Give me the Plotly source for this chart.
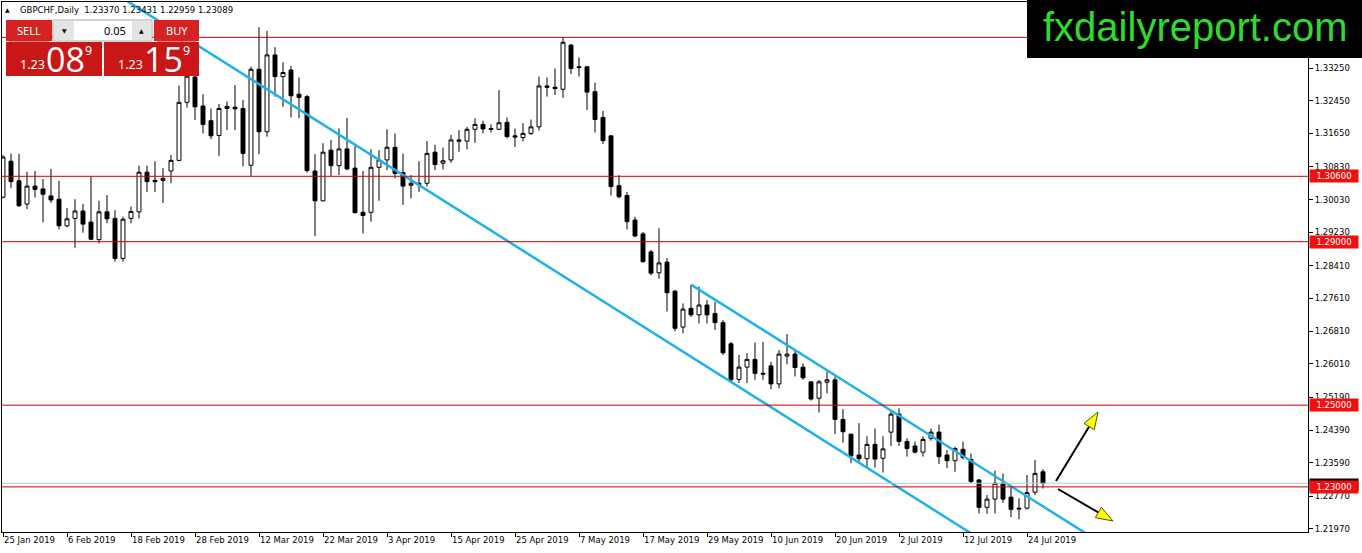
import math

import pandas as pd
import plotly.graph_objects as go

# GBPCHF daily bars, 25 Jan 2019 .. 26 Jul 2019 (weekdays)
dates = pd.bdate_range("2019-01-25", "2019-07-26")

open_ = [
    1.3009, 1.3097, 1.3049, 1.2992, 1.3036, 1.3029, 1.3012, 1.3004, 1.2939, 1.2957,
    1.2975, 1.2948, 1.2905, 1.2973, 1.2957, 1.2859, 1.2957, 1.2973, 1.3070, 1.3050,
    1.3050, 1.3073, 1.3099, 1.3241, 1.3303, 1.3232, 1.3196, 1.3160, 1.3226, 1.3229,
    1.3226, 1.3087, 1.3322, 1.3169, 1.3357, 1.3304, 1.3320, 1.3261, 1.3255, 1.3073,
    1.3000, 1.3124, 1.3086, 1.3127, 1.3080, 1.2972, 1.2972, 1.3082, 1.3100, 1.3131,
    1.3069, 1.3038, 1.3043, 1.3043, 1.3119, 1.3092, 1.3100, 1.3149, 1.3146, 1.3175,
    1.3187, 1.3177, 1.3175, 1.3192, 1.3159, 1.3155, 1.3165, 1.3181, 1.3281, 1.3278,
    1.3273, 1.3381, 1.3328, 1.3328, 1.3267, 1.3204, 1.3159, 1.3037, 1.3013, 1.2953,
    1.2919, 1.2875, 1.2824, 1.2850, 1.2779, 1.2691, 1.2737, 1.2721, 1.2745, 1.2724,
    1.2702, 1.2650, 1.2563, 1.2593, 1.2612, 1.2578, 1.2596, 1.2552, 1.2620, 1.2625,
    1.2593, 1.2557, 1.2517, 1.2556, 1.2562, 1.2465, 1.2429, 1.2378, 1.2369, 1.2404,
    1.2370, 1.2434, 1.2478, 1.2411, 1.2400, 1.2385, 1.2419, 1.2434, 1.2378, 1.2364,
    1.2392, 1.2367, 1.2317, 1.2250, 1.2270, 1.2309, 1.2275, 1.2248, 1.2248, 1.2287,
    1.23370,
]
high = [
    1.3112, 1.3116, 1.3115, 1.3071, 1.3073, 1.3053, 1.3078, 1.3049, 1.2982, 1.3004,
    1.2992, 1.3059, 1.3000, 1.3014, 1.2977, 1.2961, 1.2986, 1.3086, 1.3086, 1.3097,
    1.3080, 1.3112, 1.3282, 1.3320, 1.3325, 1.3261, 1.3226, 1.3237, 1.3243, 1.3283,
    1.3247, 1.3328, 1.3425, 1.3416, 1.3376, 1.3339, 1.3330, 1.3302, 1.3259, 1.3114,
    1.3141, 1.3149, 1.3177, 1.3203, 1.3134, 1.3073, 1.3126, 1.3124, 1.3175, 1.3165,
    1.3116, 1.3063, 1.3097, 1.3146, 1.3137, 1.3130, 1.3161, 1.3173, 1.3181, 1.3202,
    1.3196, 1.3187, 1.3271, 1.3204, 1.3177, 1.3190, 1.3199, 1.3304, 1.3302, 1.3324,
    1.3400, 1.3384, 1.3351, 1.3330, 1.3289, 1.3220, 1.3160, 1.3063, 1.3022, 1.2961,
    1.2924, 1.2880, 1.2933, 1.2860, 1.2782, 1.2749, 1.2794, 1.2790, 1.2757, 1.2753,
    1.2708, 1.2655, 1.2623, 1.2627, 1.2653, 1.2655, 1.2606, 1.2635, 1.2674, 1.2633,
    1.2602, 1.2558, 1.2562, 1.2582, 1.2570, 1.2490, 1.2430, 1.2456, 1.2424, 1.2443,
    1.2424, 1.2486, 1.2492, 1.2419, 1.2411, 1.2424, 1.2443, 1.2452, 1.2390, 1.2398,
    1.2411, 1.2382, 1.2319, 1.2280, 1.2340, 1.2333, 1.2299, 1.2272, 1.2329, 1.2366,
    1.23431,
]
low = [
    1.3006, 1.3031, 1.2985, 1.2980, 1.3008, 1.2947, 1.2995, 1.2930, 1.2935, 1.2885,
    1.2922, 1.2904, 1.2896, 1.2945, 1.2851, 1.2851, 1.2945, 1.2957, 1.3022, 1.3022,
    1.2995, 1.3043, 1.3097, 1.3228, 1.3198, 1.3165, 1.3151, 1.3110, 1.3173, 1.3173,
    1.3084, 1.3061, 1.3114, 1.3157, 1.3255, 1.3230, 1.3204, 1.3202, 1.3069, 1.2914,
    1.2998, 1.3061, 1.3063, 1.3075, 1.2969, 1.2920, 1.2949, 1.3000, 1.3075, 1.3055,
    1.2990, 1.3006, 1.3022, 1.3035, 1.3075, 1.3077, 1.3093, 1.3120, 1.3126, 1.3142,
    1.3165, 1.3167, 1.3173, 1.3153, 1.3132, 1.3145, 1.3161, 1.3172, 1.3255, 1.3259,
    1.3252, 1.3310, 1.3304, 1.3222, 1.3167, 1.3139, 1.3013, 1.3006, 1.2930, 1.2911,
    1.2849, 1.2818, 1.2809, 1.2729, 1.2681, 1.2676, 1.2716, 1.2700, 1.2700, 1.2684,
    1.2623, 1.2554, 1.2554, 1.2554, 1.2562, 1.2562, 1.2539, 1.2541, 1.2600, 1.2570,
    1.2562, 1.2511, 1.2482, 1.2529, 1.2429, 1.2408, 1.2358, 1.2358, 1.2348, 1.2347,
    1.2335, 1.2400, 1.2400, 1.2374, 1.2382, 1.2374, 1.2413, 1.2356, 1.2346, 1.2337,
    1.2367, 1.2309, 1.2235, 1.2234, 1.2235, 1.2261, 1.2226, 1.2221, 1.2245, 1.2280,
    1.22959,
]
close = [
    1.3107, 1.3047, 1.2988, 1.3036, 1.3028, 1.3016, 1.3002, 1.2939, 1.2956, 1.2975,
    1.2943, 1.2906, 1.2973, 1.2956, 1.2859, 1.2955, 1.2974, 1.3070, 1.3047, 1.3047,
    1.3055, 1.3099, 1.3241, 1.3305, 1.3230, 1.3187, 1.3159, 1.3226, 1.3231, 1.3225,
    1.3116, 1.3322, 1.3169, 1.3357, 1.3304, 1.3314, 1.3257, 1.3253, 1.3074, 1.3000,
    1.3119, 1.3086, 1.3127, 1.3078, 1.2971, 1.2964, 1.3082, 1.3100, 1.3131, 1.3067,
    1.3036, 1.3043, 1.3040, 1.3116, 1.3089, 1.3098, 1.3149, 1.3146, 1.3175, 1.3187,
    1.3176, 1.3175, 1.3191, 1.3157, 1.3156, 1.3165, 1.3181, 1.3281, 1.3278, 1.3275,
    1.3388, 1.3324, 1.3326, 1.3266, 1.3199, 1.3147, 1.3035, 1.3010, 1.2949, 1.2914,
    1.2851, 1.2823, 1.2848, 1.2775, 1.2688, 1.2735, 1.2721, 1.2745, 1.2721, 1.2702,
    1.2628, 1.2562, 1.2593, 1.2612, 1.2578, 1.2576, 1.2552, 1.2625, 1.2625, 1.2592,
    1.2567, 1.2515, 1.2557, 1.2562, 1.2465, 1.2435, 1.2376, 1.2369, 1.2404, 1.2368,
    1.2393, 1.2478, 1.2411, 1.2394, 1.2385, 1.2416, 1.2434, 1.2374, 1.2364, 1.2394,
    1.2372, 1.2313, 1.2250, 1.2270, 1.2309, 1.2270, 1.2245, 1.2246, 1.2286, 1.2333,
    1.23089,
]

levels = [1.3400, 1.3060, 1.2900, 1.2500, 1.2300]
bid = 1.23089
ask_txt = ("1.23", "15", "9")
bid_txt = ("1.23", "08", "9")
yticks = [1.33250, 1.32450, 1.31650, 1.30830, 1.30030, 1.29230, 1.28410, 1.27610,
          1.26810, 1.26010, 1.25190, 1.24390, 1.23590, 1.22770, 1.21970]

# trend channel, (bar index, price) end points
chan_lower = [(10, 1.3557), (125, 1.2137)]
chan_upper = [(86, 1.2795), (140, 1.2129)]

W, H = 1362, 553
ML, MR, MT, MB = 2, 54, 2, 21
PW, PH = W - ML - MR, H - MT - MB
FONT = "DejaVu Sans"
CYAN = "#1FB2E8"
RED = "#CC0000"
PANEL = "#C91616"


def px(x, y):
    # pixel position -> paper coordinates
    return (x - ML) / PW, 1 - (y - MT) / PH


x = list(range(len(dates)))

fig = go.Figure()
fig.add_trace(
    go.Candlestick(
        x=x, open=open_, high=high, low=low, close=close,
        increasing=dict(line=dict(color="black", width=1), fillcolor="white"),
        decreasing=dict(line=dict(color="black", width=1), fillcolor="black"),
        whiskerwidth=0, showlegend=False, hoverinfo="skip",
    )
)
for pts in (chan_lower, chan_upper):
    fig.add_trace(
        go.Scatter(
            x=[p[0] for p in pts], y=[p[1] for p in pts], mode="lines",
            line=dict(color=CYAN, width=2.5), showlegend=False, hoverinfo="skip",
        )
    )

shapes = []
# bid line then horizontal levels
shapes.append(dict(type="line", xref="paper", yref="y", x0=0, x1=1, y0=bid, y1=bid,
                   line=dict(color="#C8C8C8", width=1), layer="above"))
for lv in levels:
    shapes.append(dict(type="line", xref="paper", yref="y", x0=0, x1=1, y0=lv, y1=lv,
                       line=dict(color=RED, width=1), layer="above"))


def rect(x0, y0, x1, y1, fill, line=None):
    a0, b0 = px(x0, y0)
    a1, b1 = px(x1, y1)
    shapes.append(dict(type="rect", xref="paper", yref="paper", x0=a0, y0=b0, x1=a1, y1=b1,
                       fillcolor=fill, line=dict(width=1 if line else 0, color=line or fill),
                       layer="above"))


def arrow(tail, tip, head=17, half=6):
    dx, dy = tip[0] - tail[0], tip[1] - tail[1]
    n = math.hypot(dx, dy)
    ux, uy = dx / n, dy / n
    bx, by = tip[0] - head * ux, tip[1] - head * uy
    a0, b0 = px(*tail)
    a1, b1 = px(bx, by)
    shapes.append(dict(type="line", xref="paper", yref="paper", x0=a0, y0=b0, x1=a1, y1=b1,
                       line=dict(color="black", width=2), layer="above"))
    pts = [tip, (bx - half * uy, by + half * ux), (bx + half * uy, by - half * ux)]
    path = "M" + " L".join("%f,%f" % px(*p) for p in pts) + " Z"
    shapes.append(dict(type="path", xref="paper", yref="paper", path=path,
                       fillcolor="#FFFF00", line=dict(color="#555500", width=1), layer="above"))


arrow((1056, 481), (1098, 412))
arrow((1058, 489), (1113, 521))

# one-click trading panel
rect(6, 20, 52, 41, "#D52222")
rect(53, 20, 152, 41, "white", "#A8A8A8")
rect(54, 21, 74, 40, "#E4E4E4")
rect(132, 21, 151, 40, "#E4E4E4")
rect(154, 20, 199, 41, "#D52222")
rect(6, 42, 102, 76, PANEL)
rect(104, 42, 199, 76, PANEL)
for xa, xb in ((9, 49), (157, 196)):
    a0, b0 = px(xa, 41.5)
    a1, _ = px(xb, 41.5)
    shapes.append(dict(type="line", xref="paper", yref="paper", x0=a0, x1=a1, y0=b0, y1=b0,
                       line=dict(color="#EE8888", width=1), layer="above"))
# logo box
rect(1027, 0, 1362, 58, "black")

ann = []


def text(x0, y0, s, size, color="black", anchor="center", family=FONT):
    a, b = px(x0, y0)
    ann.append(dict(xref="paper", yref="paper", x=a, y=b, text=s, showarrow=False,
                    xanchor=anchor, yanchor="middle",
                    font=dict(family=family, size=size, color=color)))


text(7, 10, "▲", 6)
text(18, 10, "GBPCHF,Daily  1.23370 1.23431 1.22959 1.23089", 8.5, anchor="left")
text(29, 30.5, "SELL", 11, "white", family="Noto Sans")
text(176.5, 30.5, "BUY", 11, "white", family="Noto Sans")
text(64, 30.5, "▼", 6)
text(141.5, 30.5, "▲", 6)
text(128, 30.5, "0.05", 11, anchor="right", family="Noto Sans")
for x0, parts in ((6, bid_txt), (104, ask_txt)):
    text(x0 + 26.5, 65, parts[0], 12.5, "white", family="Noto Sans")
    text(x0 + 59, 58.5, parts[1], 34, "white", family="Open Sans")
    text(x0 + 82, 50.5, parts[2], 12.5, "white", family="Noto Sans")
text(1195, 27, "fxdailyreport.com", 40, "#2EDB2E", family="Liberation Sans")

# price labels on the axis
ann.append(dict(xref="paper", yref="y", x=1, y=bid, xanchor="left", yanchor="middle",
                text="%.5f" % bid, showarrow=False, bgcolor="black", width=46, height=9,
                font=dict(family=FONT, size=8.5, color="white"), xshift=1, yshift=-1))
for lv in levels[1:]:
    ann.append(dict(xref="paper", yref="y", x=1, y=lv, xanchor="left", yanchor="middle",
                    text="%.5f" % lv, showarrow=False, bgcolor="#F01010", width=46, height=10,
                    font=dict(family=FONT, size=8.5, color="white"), xshift=1))

fig.update_layout(
    width=W, height=H,
    margin=dict(l=ML, r=MR, t=MT, b=MB),
    paper_bgcolor="white", plot_bgcolor="white",
    shapes=shapes, annotations=ann,
    xaxis=dict(
        range=[-0.125, PW / 8 - 0.125],
        tickvals=x[::8],
        ticktext=[d.strftime("%-d %b %Y") for d in dates[::8]],
        ticks="outside", ticklen=4, tickcolor="black", tickangle=0,
        ticklabelposition="outside right",
        showline=True, linecolor="black", linewidth=1, mirror=True,
        showgrid=False, zeroline=False, rangeslider=dict(visible=False),
        tickfont=dict(family=FONT, size=8.5, color="black"),
    ),
    yaxis=dict(
        side="right",
        range=[1.21896, 1.34865],
        tickvals=yticks,
        ticktext=["%.5f" % v for v in yticks],
        ticks="outside", ticklen=4, tickcolor="black",
        showline=True, linecolor="black", linewidth=1, mirror=True,
        showgrid=False, zeroline=False,
        tickfont=dict(family=FONT, size=8.5, color="black"),
    ),
)

fig.write_html("out.html", config={"displayModeBar": False},
               post_script="document.body.style.margin='0';")
